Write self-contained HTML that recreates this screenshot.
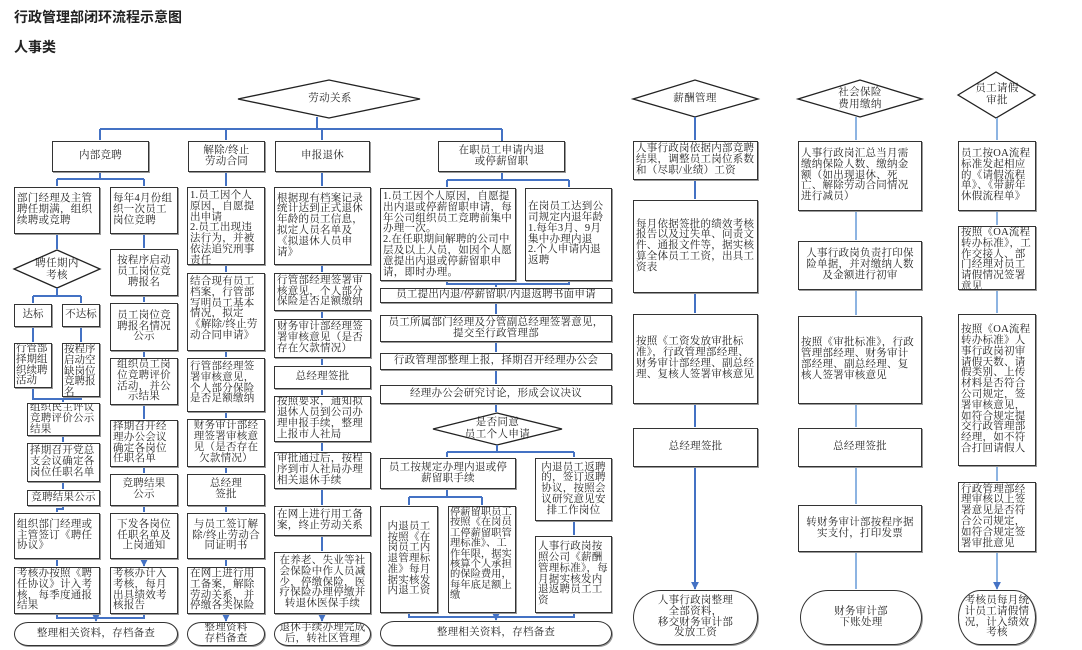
<!DOCTYPE html>
<html><head><meta charset="utf-8"><style>
body{margin:0;width:1082px;height:650px;background:#fff;position:relative;overflow:hidden;font-family:"Liberation Serif","Noto Serif CJK SC","Noto Sans CJK SC",serif;color:#222}
.b{position:absolute;box-sizing:border-box;border:1.5px solid #333;background:#fff;display:flex;align-items:center;justify-content:center;text-align:center;font-size:10.5px;line-height:10.8px;letter-spacing:0.25px;padding:0 2px;box-shadow:1px 1px 0 #999;overflow:hidden}
.l{text-align:left;justify-content:flex-start}
.t{align-items:flex-start;padding-top:3px}
.n{letter-spacing:0;padding:0 1px}
.r{border-radius:14px/50%}
.d{position:absolute;display:flex;align-items:center;justify-content:center;text-align:center;font-size:10.5px;line-height:12px;letter-spacing:0.4px}
.h{position:absolute;left:14px;font-weight:bold;font-size:14px;font-family:"Liberation Sans","Noto Sans CJK SC",sans-serif}
svg{position:absolute;left:0;top:0}
</style></head><body>
<div class="h" style="top:7px">行政管理部闭环流程示意图</div>
<div class="h" style="top:37px">人事类</div>
<svg width="1082" height="650">
<defs>
<marker id="m" viewBox="0 0 10 10" refX="9" refY="5" markerWidth="8" markerHeight="8" orient="auto" markerUnits="userSpaceOnUse"><path d="M0,0 L10,5 L0,10 z" fill="#4472C4"/></marker></defs>
<g fill="#fff" stroke="#222" stroke-width="1.3">
<polygon points="238,99 329,80 420,99 329,118"/>
<polygon points="14,269 57,250 100,269 57,288"/>
<polygon points="433,429 497,413 562,429 497,445"/>
<polygon points="633,99 695,80 758,99 695,117"/>
<polygon points="798,99 860,80 922,99 860,117"/>
<polygon points="958,95 996,72 1035,95 996,118"/>
</g>
<g stroke="#4472C4" stroke-width="2" fill="none">
<path d="M317,117V129M100,129H502M57,179H144M33,296H81M33,388V399H81V397M63,399V400M63,506V509H57V510M57,614V618H144V614M96,618V619M447,180H569M447,281V284H569V281M447,452H574M409,497H482M409,613V617H574V613M496,617V618"/>
<path d="M100,129V140M226,129V140M322,129V140M502,129V141M100,172V179M57,179V186M144,179V186M57,234V249M57,288V296M33,296V303M81,296V303M33,327V342M81,327V342M63,399V402M63,436V442M63,482V489M57,509V512M57,559V566M96,618V621" marker-end="url(#m)"/>
<path d="M144,234V248M144,296V302M144,351V357M144,405V419M144,467V473M144,506V512M144,559V566" marker-end="url(#m)"/>
<path d="M226,172V186M226,265V272M226,351V357M226,412V418M226,467V473M226,506V512M226,559V566M226,614V621" marker-end="url(#m)"/>
<path d="M322,172V186M322,265V272M322,311V318M322,358V365M322,389V395M322,442V451M322,489V505M322,536V551M322,614V621" marker-end="url(#m)"/>
<path d="M502,172V180M447,180V187M569,180V187M496,284V287M496,303V314M496,342V352M496,370V384M496,404V412M497,445V452M447,452V457M574,452V457M447,489V497M409,497V505M482,497V505M574,521V535M496,617V620" marker-end="url(#m)"/>
<path d="M695,117V140M695,180V199M695,293V313M695,404V427M695,467V589" marker-end="url(#m)"/>
</g>
<g stroke="#8DB4E2" stroke-width="2" fill="none">
<path d="M856,117V140M856,211V240M856,290V315M856,404V427M856,467V504M856,552V589M997,118V140M997,211V225M997,290V313M997,466V481M997,552V589" marker-end="url(#m)"/>
</g>
</svg>
<div class="d" style="left:280px;top:88px;width:100px;height:22px">劳动关系</div>
<div class="d" style="left:20px;top:258px;width:74px;height:24px">聘任期内<br>考核</div>
<div class="d" style="left:450px;top:415px;width:95px;height:28px">是否同意<br>员工个人申请</div>
<div class="d" style="left:650px;top:88px;width:90px;height:22px">薪酬管理</div>
<div class="d" style="left:815px;top:86px;width:90px;height:26px">社会保险<br>费用缴纳</div>
<div class="d" style="left:968px;top:82px;width:58px;height:26px">员工请假<br>审批</div>

<div class="b" style="left:52px;top:141px;width:97px;height:31px">内部竞聘</div>
<div class="b" style="left:188px;top:141px;width:77px;height:31px">解除/终止<br>劳动合同</div>
<div class="b" style="left:275px;top:141px;width:95px;height:31px">申报退休</div>
<div class="b" style="left:438px;top:141px;width:127px;height:31px">在职员工申请内退<br>或停薪留职</div>

<div class="b l" style="left:14px;top:187px;width:86px;height:47px">部门经理及主管聘任期满，组织续聘或竞聘</div>
<div class="b l" style="left:110px;top:187px;width:68px;height:47px">每年4月份组织一次员工岗位竞聘</div>
<div class="b n" style="left:14px;top:304px;width:38px;height:23px">达标</div>
<div class="b n" style="left:62px;top:304px;width:38px;height:23px">不达标</div>
<div class="b l t n" style="left:14px;top:343px;width:38px;height:45px">行管部择期组织续聘活动</div>
<div class="b l t n" style="left:62px;top:343px;width:38px;height:54px;padding-top:1px">按程序启动空缺岗位竞聘报名</div>
<div class="b l" style="left:27px;top:403px;width:73px;height:33px">组织民主评议竞聘评价公示结果</div>
<div class="b l" style="left:27px;top:443px;width:73px;height:39px">择期召开党总支会议确定各岗位任职名单</div>
<div class="b" style="left:27px;top:490px;width:73px;height:16px">竞聘结果公示</div>
<div class="b l" style="left:14px;top:513px;width:86px;height:46px">组织部门经理或主管签订《聘任协议》</div>
<div class="b l" style="left:14px;top:567px;width:86px;height:47px">考核办按照《聘任协议》计入考核，每季度通报结果</div>
<div class="b r" style="left:14px;top:622px;width:164px;height:24px">整理相关资料，存档备查</div>

<div class="b" style="left:110px;top:249px;width:68px;height:47px">按程序启动员工岗位竞聘报名</div>
<div class="b" style="left:110px;top:303px;width:68px;height:48px">员工岗位竞聘报名情况公示</div>
<div class="b" style="left:110px;top:358px;width:68px;height:47px">组织员工岗位竞聘评价活动，并公示结果</div>
<div class="b l" style="left:110px;top:420px;width:68px;height:47px">择期召开经理办公会议确定各岗位任职名单</div>
<div class="b" style="left:110px;top:474px;width:68px;height:32px">竞聘结果<br>公示</div>
<div class="b" style="left:110px;top:513px;width:68px;height:46px">下发各岗位任职名单及上岗通知</div>
<div class="b l" style="left:110px;top:567px;width:68px;height:47px">考核办计入考核，每月出具绩效考核报告</div>

<div class="b l t" style="left:187px;top:187px;width:78px;height:78px">1.员工因个人原因，自愿提出申请<br>2.员工出现违法行为，并被依法追究刑事责任</div>
<div class="b l t" style="left:187px;top:273px;width:78px;height:78px">结合现有员工档案，行管部写明员工基本情况，拟定《解除/终止劳动合同申请》</div>
<div class="b l t" style="left:187px;top:358px;width:78px;height:54px">行管部经理签署审核意见，个人部分保险是否足额缴纳</div>
<div class="b" style="left:187px;top:419px;width:78px;height:48px">财务审计部经理签署审核意见（是否存在欠款情况）</div>
<div class="b" style="left:187px;top:474px;width:78px;height:32px">总经理<br>签批</div>
<div class="b" style="left:187px;top:513px;width:78px;height:46px">与员工签订解除/终止劳动合同证明书</div>
<div class="b l" style="left:187px;top:567px;width:78px;height:47px">在网上进行用工备案，解除劳动关系，并停缴各类保险</div>
<div class="b r" style="left:187px;top:622px;width:78px;height:24px">整理资料<br>存档备查</div>

<div class="b l" style="left:274px;top:187px;width:97px;height:78px">根据现有档案记录统计达到正式退休年龄的员工信息，拟定人员名单及《拟退休人员申请》</div>
<div class="b l" style="left:274px;top:273px;width:97px;height:38px">行管部经理签署审核意见，个人部分保险是否足额缴纳</div>
<div class="b l" style="left:274px;top:319px;width:97px;height:39px">财务审计部经理签署审核意见（是否存在欠款情况）</div>
<div class="b" style="left:274px;top:366px;width:97px;height:23px">总经理签批</div>
<div class="b l" style="left:274px;top:396px;width:97px;height:46px">按照要求，通知拟退休人员到公司办理申报手续，整理上报市人社局</div>
<div class="b l" style="left:274px;top:452px;width:97px;height:37px">审批通过后，按程序到市人社局办理相关退休手续</div>
<div class="b l" style="left:274px;top:506px;width:97px;height:30px">在网上进行用工备案，终止劳动关系</div>
<div class="b" style="left:274px;top:552px;width:97px;height:62px">在养老、失业等社会保险中作人员减少，停缴保险，医疗保险办理停缴并转退休医保手续</div>
<div class="b r" style="left:274px;top:622px;width:97px;height:24px">退休手续办理完成后，转社区管理</div>

<div class="b l t" style="left:380px;top:188px;width:136px;height:93px;padding-top:3px">1.员工因个人原因，自愿提出内退或停薪留职申请，每年公司组织员工竞聘前集中办理一次。<br>2.在任职期间解聘的公司中层及以上人员，如因个人愿意提出内退或停薪留职申请，即时办理。</div>
<div class="b l" style="left:525px;top:188px;width:87px;height:93px">在岗员工达到公司规定内退年龄<br>1.每年3月、9月集中办理内退<br>2.个人申请内退返聘</div>
<div class="b" style="left:380px;top:288px;width:232px;height:15px">员工提出内退/停薪留职/内退返聘书面申请</div>
<div class="b" style="left:380px;top:315px;width:232px;height:27px">员工所属部门经理及分管副总经理签署意见，<br>提交至行政管理部</div>
<div class="b" style="left:380px;top:353px;width:232px;height:17px">行政管理部整理上报，择期召开经理办公会</div>
<div class="b" style="left:380px;top:385px;width:232px;height:19px">经理办公会研究讨论，形成会议决议</div>
<div class="b" style="left:380px;top:458px;width:136px;height:31px">员工按规定办理内退或停<br>薪留职手续</div>
<div class="b" style="left:535px;top:458px;width:77px;height:63px">内退员工返聘的，签订返聘协议，按照会议研究意见安排工作岗位</div>
<div class="b" style="left:380px;top:506px;width:58px;height:107px">内退员工按照《在岗员工内退管理标准》每月据实核发内退工资</div>
<div class="b l t n" style="left:448px;top:506px;width:68px;height:107px;padding-top:1px;line-height:10.4px;font-size:10.3px">停薪留职员工按照《在岗员工停薪留职管理标准》、工作年限，据实核算个人承担的保险费用，每年底足额上缴</div>
<div class="b l" style="left:535px;top:536px;width:77px;height:77px">人事行政岗按照公司《薪酬管理标准》，每月据实核发内退返聘员工工资</div>
<div class="b r" style="left:380px;top:621px;width:232px;height:25px">整理相关资料，存档备查</div>

<div class="b l" style="left:633px;top:141px;width:125px;height:39px">人事行政岗依据内部竞聘结果，调整员工岗位系数和（尽职/业绩）工资</div>
<div class="b l" style="left:633px;top:200px;width:125px;height:93px">每月依据签批的绩效考核报告以及过失单、问责文件、通报文件等，据实核算全体员工工资，出具工资表</div>
<div class="b l" style="left:633px;top:314px;width:125px;height:90px">按照《工资发放审批标准》，行政管理部经理、财务审计部经理、副总经理、复核人签署审核意见</div>
<div class="b" style="left:633px;top:428px;width:125px;height:39px">总经理签批</div>
<div class="b r" style="left:633px;top:590px;width:125px;height:55px;border-radius:28px/50%">人事行政岗整理<br>全部资料，<br>移交财务审计部<br>发放工资</div>

<div class="b l" style="left:798px;top:141px;width:124px;height:70px">人事行政岗汇总当月需缴纳保险人数、缴纳金额（如出现退休、死亡、解除劳动合同情况进行减员）</div>
<div class="b" style="left:798px;top:241px;width:124px;height:49px">人事行政岗负责打印保险单据，并对缴纳人数及金额进行初审</div>
<div class="b l" style="left:798px;top:316px;width:124px;height:88px">按照《审批标准》，行政管理部经理、财务审计部经理、副总经理、复核人签署审核意见</div>
<div class="b" style="left:798px;top:428px;width:124px;height:39px">总经理签批</div>
<div class="b" style="left:798px;top:505px;width:124px;height:47px">转财务审计部按程序据实支付，打印发票</div>
<div class="b r" style="left:800px;top:590px;width:122px;height:55px;border-radius:28px/50%">财务审计部<br>下账处理</div>

<div class="b l" style="left:958px;top:141px;width:78px;height:70px">员工按OA流程标准发起相应的《请假流程单》、《带薪年休假流程单》</div>
<div class="b l t" style="left:958px;top:226px;width:78px;height:64px;padding-top:1px">按照《OA流程转办标准》，工作交接人、部门经理对员工请假情况签署意见</div>
<div class="b l" style="left:958px;top:314px;width:78px;height:152px">按照《OA流程转办标准》人事行政岗初审请假天数、请假类别、上传材料是否符合公司规定，签署审核意见，如符合规定提交行政管理部经理，如不符合打回请假人</div>
<div class="b l" style="left:958px;top:482px;width:78px;height:70px">行政管理部经理审核以上签署意见是否符合公司规定，如符合规定签署审批意见</div>
<div class="b r" style="left:958px;top:590px;width:78px;height:55px;border-radius:22px/50%">考核员每月统计员工请假情况，计入绩效考核</div>
</body></html>
